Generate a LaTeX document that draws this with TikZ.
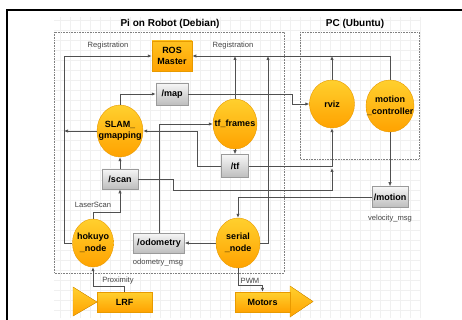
\documentclass[tikz,border=0pt]{standalone}
\usepackage{fontspec}
\setmainfont{Liberation Sans}
\usetikzlibrary{shapes.geometric,arrows.meta,calc}
\definecolor{orT}{HTML}{FFD02E}
\definecolor{orB}{HTML}{FFA200}
\definecolor{orD}{HTML}{E89A00}
\definecolor{gyT}{HTML}{F7F7F7}
\definecolor{gyB}{HTML}{BDBDBD}
\definecolor{gyD}{HTML}{9A9A9A}
\definecolor{ln}{HTML}{505050}
\definecolor{lbl}{HTML}{444444}
\begin{document}
\begin{tikzpicture}[x=1pt,y=-1pt,
  proc/.style={ellipse,draw=orD,line width=0.4pt,top color=orT,bottom color=orB,inner sep=0pt},
  ptxt/.style={inner sep=0pt,align=center,font=\bfseries\fontsize{9}{11.5}\selectfont},
  topic/.style={rectangle,draw=gyD,line width=0.5pt,top color=gyT,bottom color=gyB,inner sep=0pt,font=\bfseries\fontsize{9}{11}\selectfont},
  rosbox/.style={rectangle,draw=orD,line width=0.5pt,top color=orT!70!orB,bottom color=orB,inner sep=0pt,align=center,font=\bfseries\fontsize{9}{11.5}\selectfont,minimum width=40pt,minimum height=30pt},
  hw/.style={rectangle,draw=orD,line width=0.4pt,top color=orT,bottom color=orB,inner sep=0pt,font=\bfseries\fontsize{9}{11}\selectfont,minimum width=55pt,minimum height=20pt},
  lab/.style={text=lbl,font=\fontsize{7.6}{9}\selectfont,inner sep=0pt},
  ttl/.style={font=\bfseries\fontsize{10}{12}\selectfont,inner sep=0pt},
  conn/.style={draw=ln,line width=0.75pt},
  arr/.style={conn,-{Latex[length=4pt,width=3.4pt]}}
]
\useasboundingbox (0,0) rectangle (462,320);
\fill[white] (0,0) rectangle (462,320);
% faint grid
\draw[black!6,line width=0.3pt,step=10pt] (54,17) grid (421,318);
% outer frame
\draw[black,line width=1.3pt] (7,321) -- (7,10) -- (463,10);
% titles
\node[ttl] (t1) at (170,24) {Pi on Robot (Debian)};
\node[ttl] (t2) at (355,24) {PC (Ubuntu)};
% dotted boxes
\draw[gray,densely dotted,line width=0.6pt] (54,32) rectangle (284,273);
\draw[gray,densely dotted,line width=0.6pt] (300,32) rectangle (419,159);
% nodes
\node[rosbox] (ros) at (172,56) {ROS\\Master};
\node[topic,minimum width=32pt,minimum height=22pt] (map) at (172,94) {/map};
\node[proc,minimum width=46pt,minimum height=52pt] (slam) at (120,131) {};
\node[ptxt] (slamt) at (slam.center) {SLAM\_\\gmapping};
\node[proc,minimum width=44pt,minimum height=50pt] (tf) at (235,124) {};
\node[ptxt] (tft) at (tf.center) {tf\_frames};
\node[topic,minimum width=27pt,minimum height=23pt] (tfb) at (235,166) {/tf};
\node[proc,minimum width=45pt,minimum height=48pt] (rviz) at (332,104) {};
\node[ptxt] (rvizt) at (rviz.center) {rviz};
\node[proc,minimum width=48pt,minimum height=52pt] (mc) at (390,106) {};
\node[ptxt] (mct) at (mc.center) {motion\\\_controller};
\node[topic,minimum width=36pt,minimum height=20pt] (scan) at (120,179) {/scan};
\node[proc,minimum width=41pt,minimum height=48pt] (hok) at (93,243) {};
\node[ptxt] (hokt) at (hok.center) {hokuyo\\\_node};
\node[topic,minimum width=51pt,minimum height=20pt] (odo) at (159,243) {/odometry};
\node[proc,minimum width=44pt,minimum height=50pt] (ser) at (238,243) {};
\node[ptxt] (sert) at (ser.center) {serial\\\_node};
\node[topic,minimum width=36pt,minimum height=21pt] (mot) at (390,197) {/motion};
% hardware
\fill[draw=orD,line width=0.4pt,top color=orT,bottom color=orB] (73,287) -- (97,302) -- (73,316) -- cycle;
\node[hw] (lrf) at (124.5,302) {LRF};
\fill[draw=orD,line width=0.4pt,top color=orT,bottom color=orB] (290,286) -- (313,301.5) -- (290,317) -- cycle;
\node[hw] (motors) at (262.5,302) {Motors};
% labels
\node[lab] (l1) at (108,46) {Registration};
\node[lab] (l2) at (233,46) {Registration};
\node[lab] (l3) at (93,205) {LaserScan};
\node[lab] (l4) at (158,263) {odometry\_msg};
\node[lab] (l5) at (118,281) {Proximity};
\node[lab] (l6) at (250,281) {PWM};
\node[lab] (l7) at (390,219) {velocity\_msg};
% helper coordinates
\coordinate (busL) at (64,56);
\coordinate (serup) at (268,56);
\coordinate (mapturn) at (292,94);
\coordinate (tfturn) at (197,131);
\coordinate (scanturn) at (173,190);
\coordinate (scanend) at (332,168);
% registration bus
\draw[arr] (mc.north) |- (ros.east);
\draw[arr] (tf.north) -- (tf.north |- ros.east);
\draw[arr] (rviz.north) -- (rviz.north |- ros.east);
\draw[arr] (ser.east) -| (serup);
\draw[arr] (hok.west) -| (busL) -- (ros.west);
\draw[arr] (slam.west) -- (slam.west -| busL);
% topics
\draw[arr] (slam.north) |- (map.west);
\draw[arr] (map.east) -- (mapturn) |- (rviz.west);
\draw[arr] (odo.north) |- (tf.west);
\draw[arr] (tfb.west) -| (tfturn) -- (slam.east);
\draw[arr] (tf.south) -- (tfb.north);
\draw[arr] (tfb.east) -| (rviz.south);
\draw[arr] (scan.east) -| (scanturn) -| (scanend);
\draw[arr] (hok.north) -- ++(0,-6) -| (scan.south);
\draw[arr] (scan.north) -- (slam.south);
\draw[arr] (ser.west) -- (odo.east);
\draw[arr] (mc.south) -- (mot.north);
\draw[arr] (mot.west) -| (ser.north);
\draw[arr] (lrf.north) -- ++(0,-5) -| (hok.south);
\draw[arr] (ser.south) -- ++(0,17) -| (motors.north);
\end{tikzpicture}
\end{document}
